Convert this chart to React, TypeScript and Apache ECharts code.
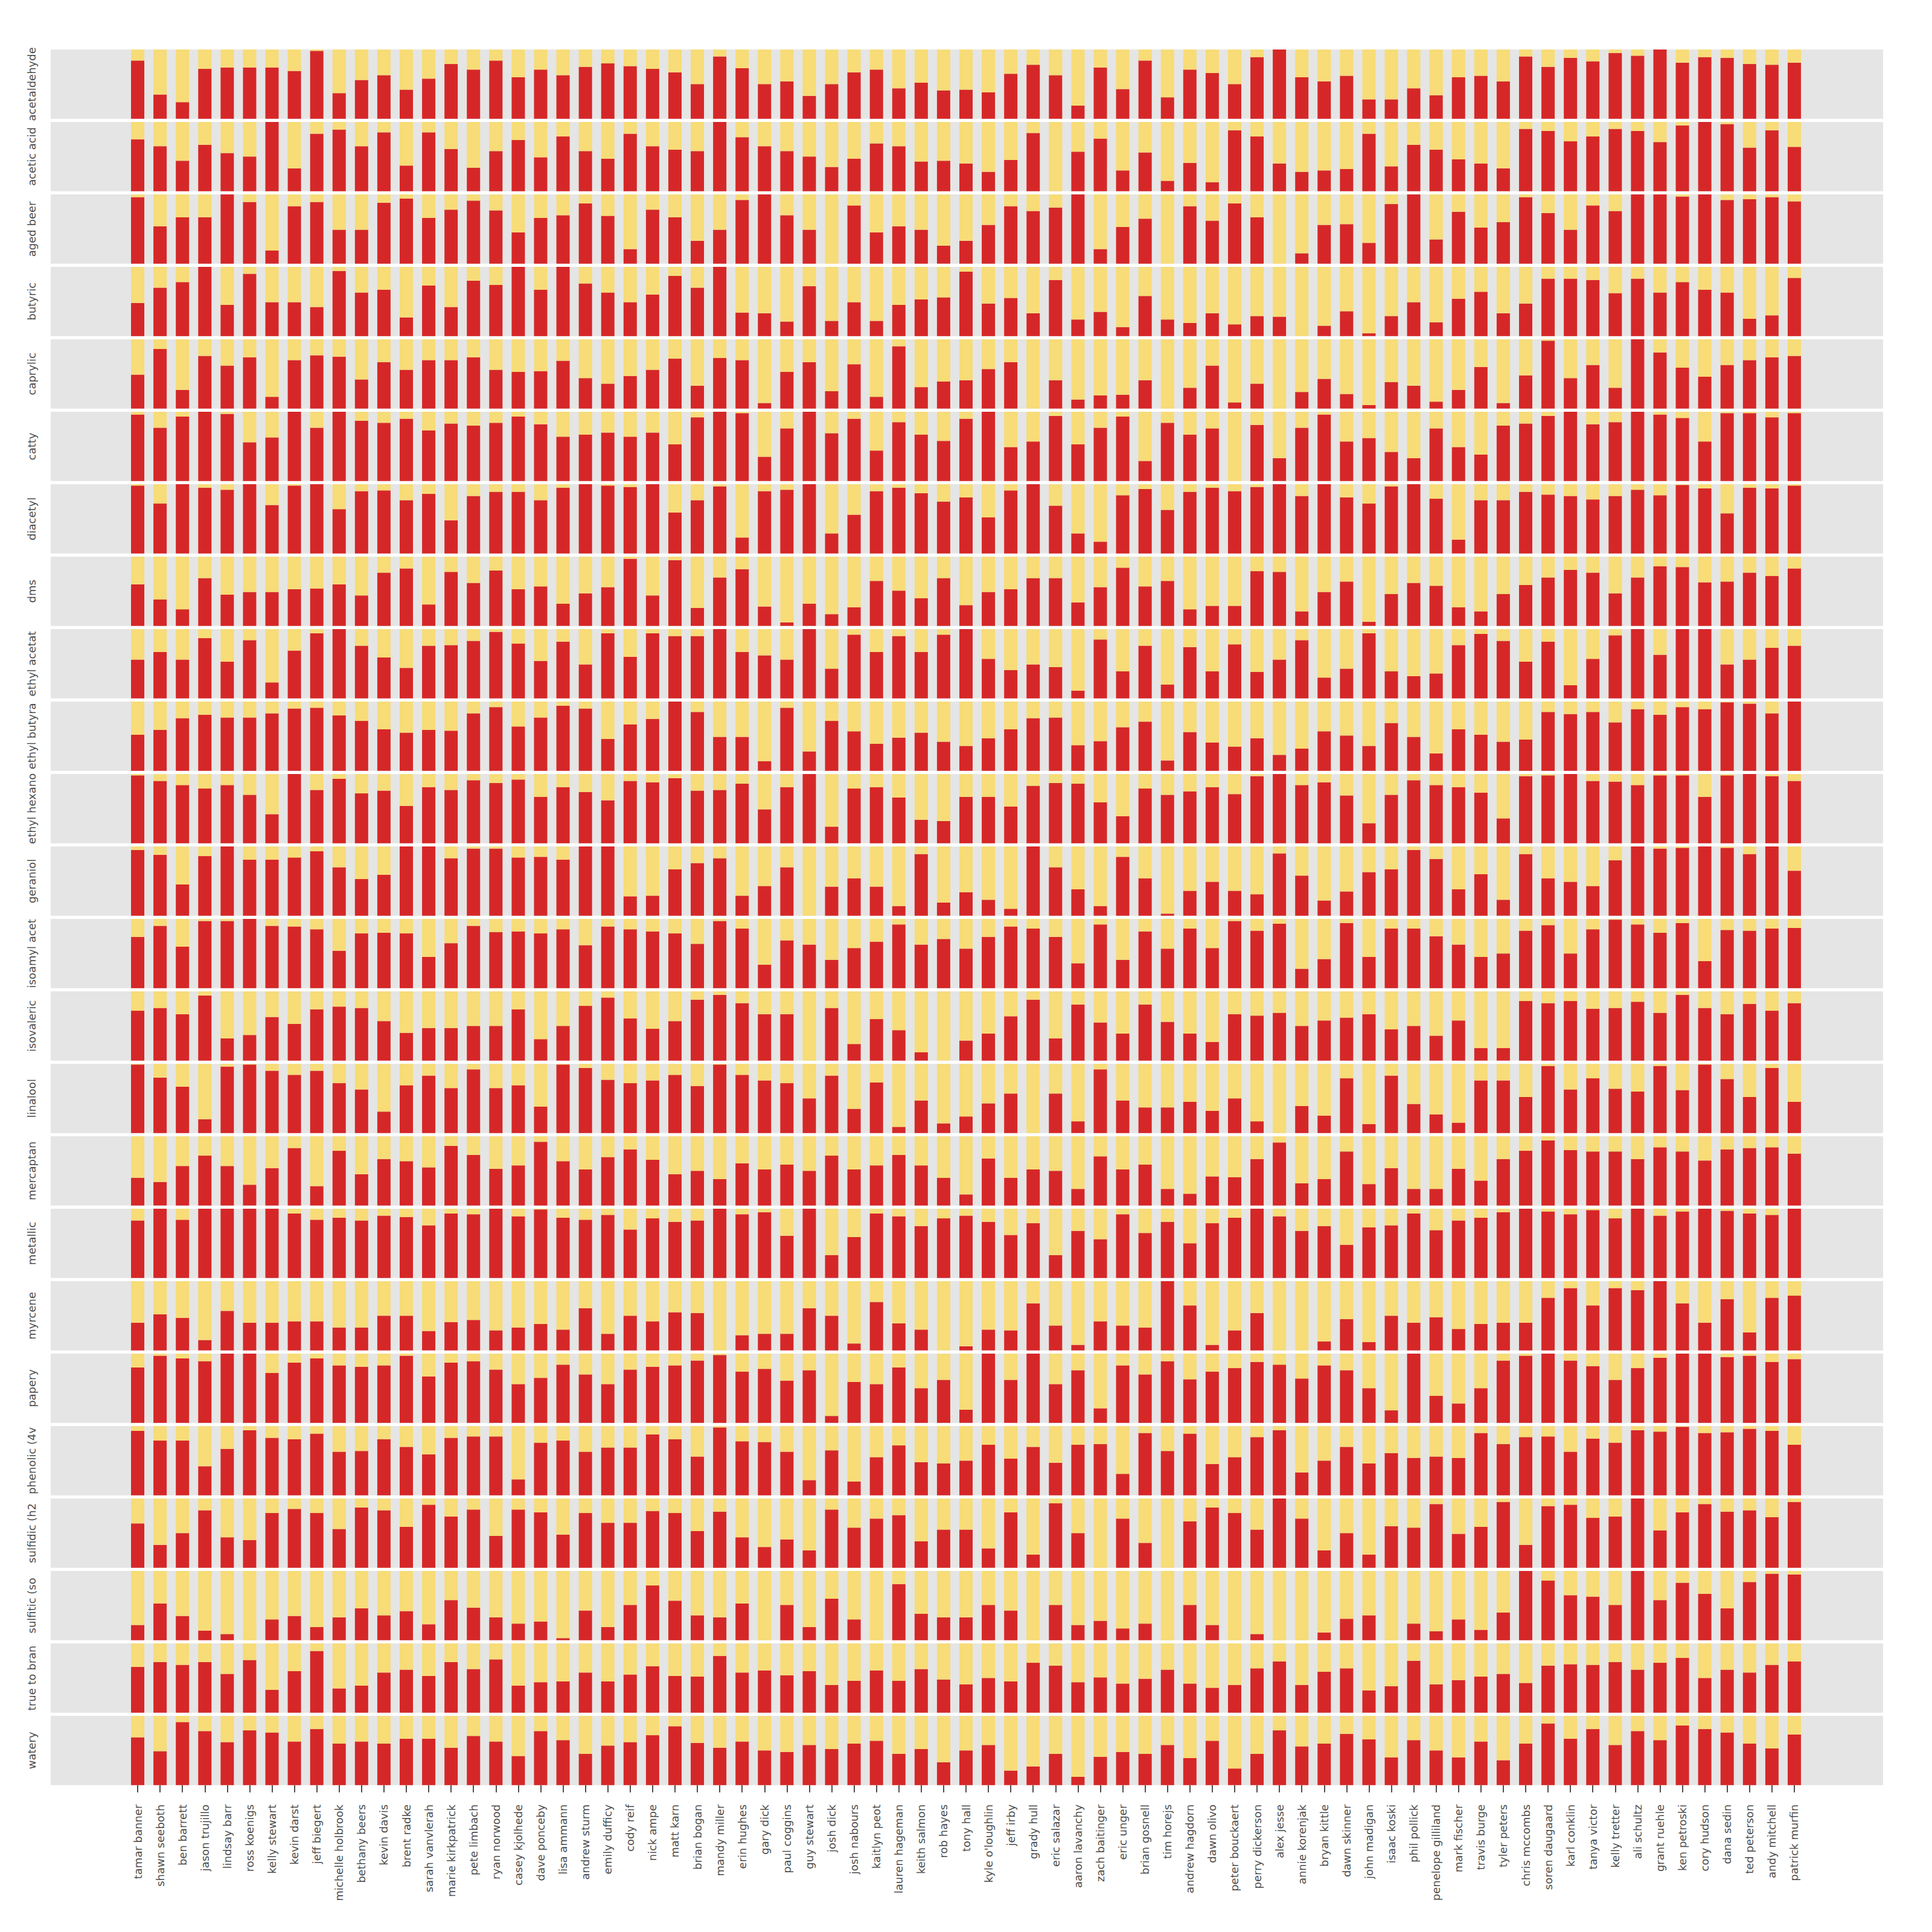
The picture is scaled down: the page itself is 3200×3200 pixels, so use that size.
import React, { useEffect, useRef } from "react";
import * as echarts from "echarts";

const tasters = [
  "tamar banner", "shawn seeboth", "ben barrett", "jason trujillo", "lindsay barr", "ross koenigs", "kelly stewart", "kevin darst",
  "jeff biegert", "michelle holbrook", "bethany beers", "kevin davis", "brent radke", "sarah vanvlerah", "marie kirkpatrick", "pete limbach",
  "ryan norwood", "casey kjolhede", "dave ponceby", "lisa ammann", "andrew sturm", "emily dufficy", "cody reif", "nick ampe",
  "matt karn", "brian bogan", "mandy miller", "erin hughes", "gary dick", "paul coggins", "guy stewart", "josh dick",
  "josh nabours", "kaitlyn peot", "lauren hageman", "keith salmon", "rob hayes", "tony hall", "kyle o'loughlin", "jeff irby",
  "grady hull", "eric salazar", "aaron lavanchy", "zach baitinger", "eric unger", "brian gosnell", "tim horejs", "andrew hagdorn",
  "dawn olivo", "peter bouckaert", "perry dickerson", "alex jesse", "annie korenjak", "bryan kittle", "dawn skinner", "john madigan",
  "isaac koski", "phil pollick", "penelope gilliland", "mark fischer", "travis burge", "tyler peters", "chris mccombs", "soren daugaard",
  "karl conklin", "tanya victor", "kelly tretter", "ali schultz", "grant ruehle", "ken petroski", "cory hudson", "dana sedin",
  "ted peterson", "andy mitchell", "patrick murfin",
];

const acetaldehyde = [0.84,0.35,0.24,0.72,0.74,0.74,0.74,0.69,0.98,0.37,0.56,0.63,0.42,0.58,0.79,0.71,0.84,0.60,0.71,0.63,0.75,0.80,0.76,0.72,0.67,0.50,0.90,0.73,0.50,0.54,0.33,0.50,0.67,0.71,0.44,0.52,0.41,0.42,
  0.38,0.65,0.78,0.63,0.19,0.74,0.43,0.84,0.31,0.71,0.66,0.50,0.89,1.00,0.60,0.54,0.62,0.28,0.28,0.44,0.34,0.60,0.62,0.54,0.90,0.75,0.88,0.83,0.95,0.91,1.00,0.81,0.89,0.88,0.79,0.78,0.81];
const aceticAcid = [0.75,0.65,0.44,0.67,0.55,0.50,1.00,0.33,0.83,0.89,0.65,0.85,0.37,0.85,0.61,0.34,0.58,0.74,0.49,0.79,0.58,0.47,0.83,0.65,0.60,0.58,1.00,0.78,0.65,0.58,0.50,0.35,0.47,0.69,0.65,0.43,0.44,0.40,
  0.28,0.45,0.84,0.00,0.57,0.76,0.30,0.56,0.15,0.41,0.13,0.88,0.79,0.40,0.28,0.30,0.32,0.83,0.36,0.67,0.60,0.46,0.40,0.33,0.90,0.87,0.72,0.79,0.90,0.87,0.71,0.95,1.00,0.97,0.63,0.88,0.64];
const agedBeer = [0.96,0.54,0.67,0.67,1.00,0.89,0.19,0.83,0.89,0.49,0.49,0.88,0.94,0.66,0.78,0.91,0.77,0.45,0.66,0.70,0.87,0.69,0.21,0.78,0.67,0.33,0.49,0.92,1.00,0.70,0.49,0.00,0.84,0.45,0.54,0.49,0.26,0.33,
  0.56,0.83,0.76,0.81,1.00,0.21,0.53,0.65,0.00,0.83,0.62,0.87,0.67,0.00,0.15,0.56,0.57,0.30,0.86,1.00,0.35,0.75,0.52,0.60,0.96,0.73,0.49,0.84,0.76,1.00,1.00,0.97,1.00,0.92,0.93,0.96,0.90];
const butyric = [0.48,0.70,0.78,1.00,0.45,0.90,0.49,0.49,0.42,0.94,0.63,0.67,0.27,0.73,0.42,0.80,0.74,1.00,0.67,1.00,0.76,0.63,0.49,0.60,0.87,0.70,1.00,0.34,0.33,0.21,0.72,0.22,0.49,0.22,0.45,0.53,0.56,0.93,
  0.47,0.55,0.33,0.81,0.24,0.35,0.13,0.58,0.24,0.19,0.33,0.17,0.29,0.28,0.00,0.15,0.36,0.04,0.29,0.49,0.20,0.54,0.64,0.33,0.47,0.83,0.83,0.81,0.62,0.83,0.63,0.78,0.67,0.63,0.25,0.30,0.84];
const caprylic = [0.49,0.86,0.27,0.76,0.62,0.74,0.17,0.70,0.77,0.75,0.42,0.67,0.56,0.70,0.70,0.74,0.56,0.53,0.54,0.69,0.44,0.36,0.47,0.56,0.72,0.33,0.73,0.70,0.08,0.53,0.67,0.25,0.64,0.17,0.90,0.31,0.39,0.41,
  0.57,0.67,0.00,0.41,0.13,0.19,0.20,0.41,0.00,0.30,0.62,0.09,0.36,0.00,0.24,0.43,0.21,0.05,0.38,0.33,0.10,0.27,0.60,0.08,0.48,0.98,0.44,0.63,0.30,1.00,0.81,0.59,0.46,0.63,0.70,0.74,0.76];
const catty = [0.96,0.77,0.93,1.00,0.97,0.56,0.63,1.00,0.77,1.00,0.87,0.84,0.90,0.73,0.83,0.80,0.84,0.93,0.82,0.64,0.67,0.70,0.64,0.70,0.53,0.92,1.00,0.98,0.35,0.76,1.00,0.69,0.90,0.44,0.85,0.67,0.58,0.90,
  1.00,0.49,0.57,0.94,0.53,0.77,0.93,0.29,0.84,0.67,0.76,0.00,0.81,0.33,0.77,0.96,0.57,0.62,0.42,0.33,0.76,0.49,0.38,0.80,0.83,0.94,1.00,0.82,0.85,1.00,0.96,0.91,0.57,0.98,0.98,0.92,0.98];
const diacetyl = [0.98,0.72,1.00,0.95,0.92,1.00,0.70,0.98,1.00,0.64,0.90,0.91,0.77,0.86,0.48,0.83,0.89,0.89,0.77,0.95,1.00,0.98,0.96,1.00,0.59,0.77,0.97,0.23,0.90,0.92,1.00,0.29,0.56,0.90,0.95,0.87,0.75,0.81,
  0.52,0.91,1.00,0.69,0.29,0.17,0.84,0.93,0.63,0.89,0.95,0.90,0.96,1.00,0.83,1.00,0.81,0.72,0.97,1.00,0.79,0.20,0.77,0.77,0.89,0.85,0.83,0.78,0.83,0.92,0.84,0.99,0.94,0.58,0.95,0.94,0.98];
const dms = [0.60,0.38,0.24,0.69,0.45,0.49,0.49,0.53,0.54,0.60,0.44,0.77,0.83,0.31,0.78,0.62,0.80,0.53,0.57,0.32,0.47,0.56,0.97,0.44,0.95,0.26,0.70,0.82,0.28,0.05,0.32,0.17,0.27,0.65,0.51,0.40,0.69,0.30,
  0.49,0.53,0.69,0.69,0.34,0.56,0.84,0.57,0.65,0.24,0.29,0.29,0.79,0.78,0.21,0.49,0.64,0.06,0.46,0.62,0.58,0.27,0.21,0.46,0.59,0.70,0.81,0.77,0.47,0.70,0.86,0.85,0.63,0.64,0.77,0.72,0.83];
const ethylAcetate = [0.56,0.67,0.56,0.87,0.53,0.84,0.23,0.69,0.94,1.00,0.76,0.59,0.44,0.76,0.77,0.83,0.96,0.79,0.54,0.82,0.49,0.94,0.60,0.94,0.90,0.90,1.00,0.67,0.62,0.56,1.00,0.43,0.92,0.67,0.90,0.67,0.92,1.00,
  0.57,0.41,0.49,0.45,0.11,0.85,0.39,0.76,0.20,0.74,0.39,0.78,0.38,0.56,0.84,0.30,0.43,0.94,0.39,0.32,0.36,0.77,0.93,0.83,0.53,0.82,0.19,0.57,0.91,1.00,0.63,1.00,1.00,0.49,0.56,0.73,0.76];
const ethylButyrate = [0.52,0.59,0.76,0.81,0.77,0.77,0.83,0.90,0.91,0.80,0.72,0.60,0.55,0.59,0.58,0.83,0.92,0.64,0.77,0.94,0.90,0.46,0.67,0.75,1.00,0.85,0.49,0.49,0.14,0.91,0.28,0.72,0.57,0.39,0.48,0.55,0.42,0.36,
  0.47,0.60,0.76,0.77,0.37,0.43,0.63,0.71,0.15,0.56,0.41,0.35,0.47,0.23,0.32,0.57,0.51,0.36,0.69,0.49,0.25,0.60,0.52,0.42,0.45,0.85,0.82,0.85,0.70,0.89,0.81,0.92,0.89,0.99,0.97,0.83,1.00];
const ethylHexanoate = [0.98,0.90,0.84,0.79,0.84,0.70,0.42,1.00,0.77,0.93,0.72,0.76,0.54,0.81,0.77,0.91,0.87,0.92,0.67,0.81,0.74,0.62,0.90,0.88,0.94,0.76,0.77,0.86,0.49,0.81,1.00,0.24,0.79,0.81,0.66,0.34,0.32,0.67,
  0.67,0.53,0.83,0.87,0.86,0.59,0.39,0.79,0.70,0.75,0.81,0.71,0.97,1.00,0.84,0.88,0.69,0.29,0.70,0.91,0.84,0.81,0.73,0.36,0.97,0.98,1.00,0.90,0.89,0.84,0.98,0.98,0.67,0.98,1.00,0.97,0.90];
const geraniol = [0.95,0.88,0.45,0.86,1.00,0.81,0.81,0.84,0.93,0.70,0.53,0.59,1.00,1.00,0.83,0.97,0.97,0.84,0.85,0.81,1.00,1.00,0.28,0.29,0.67,0.76,0.83,0.29,0.43,0.70,0.00,0.42,0.54,0.42,0.14,0.89,0.19,0.34,
  0.23,0.10,1.00,0.70,0.38,0.14,0.85,0.54,0.03,0.36,0.49,0.36,0.31,0.90,0.58,0.22,0.35,0.63,0.67,0.95,0.82,0.38,0.60,0.23,0.89,0.54,0.49,0.43,0.80,1.00,0.97,0.98,1.00,0.98,0.89,1.00,0.65];
const isoamylAcetate = [0.74,0.90,0.60,0.97,0.97,1.00,0.90,0.89,0.85,0.54,0.79,0.80,0.79,0.45,0.65,0.90,0.81,0.82,0.79,0.85,0.62,0.89,0.85,0.82,0.79,0.64,0.97,0.86,0.34,0.69,0.63,0.41,0.58,0.67,0.92,0.63,0.71,0.57,
  0.74,0.89,0.86,0.74,0.36,0.92,0.41,0.82,0.57,0.86,0.58,0.97,0.83,0.93,0.28,0.42,0.94,0.45,0.86,0.86,0.75,0.63,0.45,0.50,0.83,0.91,0.50,0.85,0.99,0.92,0.80,0.94,0.39,0.84,0.83,0.86,0.87];
const isovaleric = [0.72,0.76,0.67,0.94,0.32,0.37,0.63,0.53,0.74,0.78,0.76,0.57,0.40,0.47,0.47,0.50,0.50,0.74,0.31,0.50,0.79,0.91,0.61,0.46,0.57,0.88,0.95,0.83,0.67,0.67,0.00,0.76,0.24,0.60,0.44,0.12,0.00,0.29,
  0.39,0.64,0.88,0.32,0.81,0.55,0.39,0.81,0.56,0.39,0.27,0.67,0.65,0.69,0.50,0.58,0.62,0.67,0.45,0.50,0.36,0.58,0.18,0.18,0.86,0.83,0.86,0.75,0.76,0.85,0.69,0.95,0.76,0.67,0.82,0.72,0.83];
const linalool = [0.99,0.80,0.67,0.20,0.96,0.99,0.90,0.84,0.90,0.72,0.63,0.31,0.69,0.83,0.65,0.92,0.65,0.69,0.38,0.99,0.94,0.77,0.72,0.76,0.84,0.68,0.99,0.84,0.76,0.72,0.50,0.83,0.35,0.73,0.09,0.47,0.14,0.24,
  0.43,0.57,0.00,0.57,0.17,0.92,0.47,0.37,0.37,0.45,0.32,0.50,0.17,0.00,0.39,0.25,0.79,0.13,0.83,0.42,0.27,0.15,0.76,0.76,0.52,0.97,0.63,0.79,0.64,0.60,0.97,0.62,0.99,0.78,0.52,0.94,0.45];
const mercaptan = [0.40,0.34,0.57,0.72,0.57,0.30,0.54,0.83,0.28,0.79,0.45,0.67,0.64,0.55,0.86,0.73,0.53,0.58,0.92,0.64,0.52,0.70,0.81,0.66,0.45,0.50,0.38,0.61,0.52,0.59,0.50,0.72,0.52,0.58,0.73,0.58,0.40,0.16,
  0.68,0.40,0.52,0.50,0.24,0.71,0.52,0.59,0.24,0.17,0.42,0.41,0.67,0.91,0.32,0.38,0.78,0.31,0.54,0.24,0.24,0.53,0.36,0.67,0.79,0.94,0.80,0.78,0.78,0.67,0.84,0.78,0.65,0.81,0.83,0.84,0.75];
const metallic = [0.83,1.00,0.84,1.00,1.00,1.00,1.00,0.93,0.84,0.87,0.83,0.90,0.88,0.76,0.93,0.92,1.00,0.89,0.99,0.87,0.84,0.91,0.70,0.86,0.81,0.83,1.00,0.92,0.95,0.61,1.00,0.33,0.59,0.93,0.89,0.75,0.86,0.90,
  0.81,0.62,0.79,0.33,0.68,0.56,0.92,0.65,0.81,0.50,0.79,0.87,1.00,0.89,0.68,0.75,0.48,0.73,0.76,0.93,0.69,0.83,0.87,0.95,1.00,0.96,0.92,0.98,0.86,1.00,0.90,0.96,1.00,0.97,0.93,0.91,1.00];
const myrcene = [0.40,0.52,0.47,0.15,0.57,0.40,0.40,0.42,0.42,0.33,0.33,0.50,0.50,0.28,0.41,0.44,0.29,0.33,0.38,0.30,0.61,0.24,0.50,0.42,0.55,0.54,0.00,0.22,0.24,0.24,0.61,0.50,0.10,0.70,0.39,0.30,0.00,0.06,
  0.30,0.29,0.68,0.36,0.08,0.42,0.36,0.33,1.00,0.65,0.08,0.29,0.54,0.00,0.00,0.13,0.45,0.12,0.50,0.40,0.48,0.31,0.38,0.40,0.40,0.76,0.90,0.65,0.90,0.87,1.00,0.68,0.40,0.74,0.26,0.76,0.79];
const papery = [0.80,0.97,0.93,0.89,1.00,1.00,0.72,0.87,0.93,0.83,0.81,0.83,0.97,0.67,0.87,0.89,0.77,0.56,0.65,0.84,0.70,0.56,0.77,0.81,0.83,0.90,0.98,0.74,0.78,0.61,0.76,0.10,0.59,0.56,0.80,0.50,0.62,0.19,
  1.00,0.62,1.00,0.56,0.76,0.21,0.83,0.70,0.89,0.63,0.74,0.79,0.88,0.84,0.64,0.83,0.76,0.50,0.18,1.00,0.39,0.28,0.50,0.90,0.97,1.00,0.90,0.82,0.62,0.79,0.94,1.00,1.00,0.95,0.97,0.88,0.92];
const phenolic = [0.93,0.79,0.79,0.42,0.67,0.94,0.83,0.81,0.89,0.63,0.64,0.81,0.70,0.59,0.83,0.85,0.85,0.23,0.76,0.79,0.63,0.69,0.69,0.88,0.81,0.56,0.98,0.78,0.77,0.63,0.22,0.65,0.20,0.55,0.72,0.48,0.46,0.50,
  0.73,0.53,0.70,0.47,0.73,0.74,0.31,0.90,0.64,0.89,0.45,0.55,0.84,0.94,0.33,0.50,0.70,0.46,0.61,0.54,0.56,0.54,0.90,0.74,0.84,0.85,0.63,0.82,0.76,0.94,0.92,0.99,0.90,0.91,0.96,0.93,0.73];
const sulfidic = [0.64,0.33,0.50,0.83,0.44,0.40,0.79,0.85,0.79,0.56,0.87,0.83,0.59,0.91,0.74,0.84,0.46,0.84,0.80,0.48,0.79,0.65,0.65,0.82,0.79,0.53,0.81,0.44,0.30,0.41,0.25,0.84,0.58,0.71,0.76,0.38,0.55,0.55,
  0.28,0.80,0.19,0.93,0.50,0.00,0.71,0.36,0.00,0.67,0.87,0.79,0.55,1.00,0.71,0.25,0.50,0.19,0.60,0.58,0.92,0.49,0.59,0.95,0.33,0.89,0.91,0.72,0.74,1.00,0.54,0.80,0.92,0.81,0.83,0.73,0.95];
const sulfitic = [0.22,0.53,0.35,0.14,0.09,0.00,0.30,0.35,0.19,0.33,0.46,0.36,0.42,0.23,0.58,0.47,0.33,0.24,0.27,0.03,0.43,0.19,0.51,0.79,0.57,0.36,0.33,0.53,0.00,0.51,0.19,0.60,0.30,0.00,0.81,0.38,0.33,0.33,
  0.51,0.43,0.00,0.51,0.22,0.28,0.17,0.24,0.00,0.51,0.22,0.00,0.09,0.00,0.00,0.11,0.31,0.36,0.00,0.24,0.13,0.30,0.15,0.40,1.00,0.86,0.65,0.63,0.51,1.00,0.58,0.83,0.67,0.46,0.84,0.96,0.95];
const trueToBrand = [0.66,0.73,0.69,0.73,0.56,0.76,0.33,0.60,0.89,0.35,0.39,0.58,0.62,0.53,0.73,0.63,0.77,0.39,0.44,0.45,0.58,0.45,0.55,0.67,0.53,0.52,0.82,0.58,0.61,0.54,0.60,0.40,0.46,0.61,0.46,0.63,0.48,0.41,
  0.50,0.45,0.72,0.68,0.44,0.51,0.42,0.49,0.62,0.42,0.36,0.40,0.64,0.74,0.40,0.59,0.64,0.32,0.38,0.75,0.41,0.47,0.52,0.56,0.43,0.68,0.70,0.69,0.73,0.62,0.72,0.79,0.50,0.62,0.58,0.69,0.74];
const watery = [0.69,0.49,0.91,0.78,0.62,0.79,0.76,0.63,0.81,0.60,0.63,0.60,0.67,0.67,0.54,0.71,0.63,0.42,0.78,0.65,0.45,0.57,0.62,0.72,0.85,0.61,0.54,0.63,0.50,0.48,0.58,0.52,0.60,0.64,0.45,0.52,0.33,0.50,
  0.58,0.21,0.27,0.45,0.12,0.41,0.48,0.45,0.58,0.39,0.64,0.24,0.45,0.79,0.56,0.60,0.74,0.66,0.40,0.65,0.50,0.40,0.63,0.36,0.60,0.89,0.67,0.81,0.58,0.78,0.65,0.86,0.81,0.76,0.60,0.53,0.73];

const attributeLabels = [
  "acetaldehyde", "acetic acid", "aged beer", "butyric", "caprylic", "catty", "diacetyl", "dms",
  "ethyl acetat", "ethyl butyra", "ethyl hexano", "geraniol", "isoamyl acet", "isovaleric", "linalool", "mercaptan",
  "metallic", "myrcene", "papery", "phenolic (4v", "sulfidic (h2", "sulfitic (so", "true to bran", "watery",
];
const attributeValues = [
  acetaldehyde, aceticAcid, agedBeer, butyric, caprylic, catty, diacetyl, dms,
  ethylAcetate, ethylButyrate, ethylHexanoate, geraniol, isoamylAcetate, isovaleric, linalool, mercaptan,
  metallic, myrcene, papery, phenolic, sulfidic, sulfitic, trueToBrand, watery,
];

const RED = "#d62728";
const YELLOW = "#f7dc77";
const PANEL = "#e5e5e5";
const TEXT = "#4d4d4d";
const FONT = "DejaVu Sans";

export default function App() {
  const ref = useRef<HTMLDivElement>(null);

  useEffect(() => {
    if (!ref.current) return;
    const chart = echarts.init(ref.current, null, { renderer: "svg" });

    const rowTop = 82;
    const rowStep = 120;
    const panelH = 114.7;
    const panelLeft = 84;
    const panelRight = 3119;
    const gridLeft = 209.5;
    const gridWidth = 2781;
    const n = attributeLabels.length;

    const grids: any[] = [];
    const xAxes: any[] = [];
    const yAxes: any[] = [];
    const series: any[] = [];
    const graphics: any[] = [];

    attributeLabels.forEach((label, i) => {
      const vals = attributeValues[i];
      const last = i === n - 1;
      const top = rowTop + rowStep * i;
      graphics.push({
        type: "rect",
        silent: true,
        z: -10,
        shape: { x: panelLeft, y: top, width: panelRight - panelLeft, height: panelH },
        style: { fill: PANEL },
      });
      grids.push({ left: gridLeft, width: gridWidth, top, height: panelH });
      xAxes.push({
        type: "category",
        gridIndex: i,
        data: tasters,
        boundaryGap: true,
        offset: last ? 6 : 0,
        axisLine: { show: false },
        axisTick: {
          show: last,
          alignWithLabel: true,
          interval: 0,
          length: 12,
          lineStyle: { color: TEXT, width: 2 },
        },
        axisLabel: {
          show: last,
          interval: 0,
          rotate: 90,
          margin: 26,
          fontSize: 18,
          color: TEXT,
          fontFamily: FONT,
        },
        splitLine: { show: false },
      });
      yAxes.push({
        type: "value",
        gridIndex: i,
        min: 0,
        max: 1,
        axisLine: { show: false },
        axisTick: { show: false },
        axisLabel: { show: false },
        splitLine: { show: false },
        name: label,
        nameLocation: "middle",
        nameRotate: 90,
        nameGap: 148,
        nameTextStyle: { fontSize: 18, color: TEXT, fontFamily: FONT },
      });
      series.push({
        type: "bar",
        name: label + " yes",
        xAxisIndex: i,
        yAxisIndex: i,
        stack: "s" + i,
        barWidth: 22,
        silent: true,
        itemStyle: { color: RED },
        data: vals,
      });
      series.push({
        type: "bar",
        name: label + " no",
        xAxisIndex: i,
        yAxisIndex: i,
        stack: "s" + i,
        barWidth: 22,
        silent: true,
        itemStyle: { color: YELLOW },
        data: vals.map((v) => Math.round((1 - v) * 100) / 100),
      });
    });

    chart.setOption({
      animation: false,
      backgroundColor: "#ffffff",
      grid: grids,
      xAxis: xAxes,
      yAxis: yAxes,
      series,
      graphic: { elements: graphics },
    });

    return () => chart.dispose();
  }, []);

  return (
    <div
      ref={ref}
      style={{ position: "absolute", left: 0, top: 0, width: 3200, height: 3200 }}
    />
  );
}
